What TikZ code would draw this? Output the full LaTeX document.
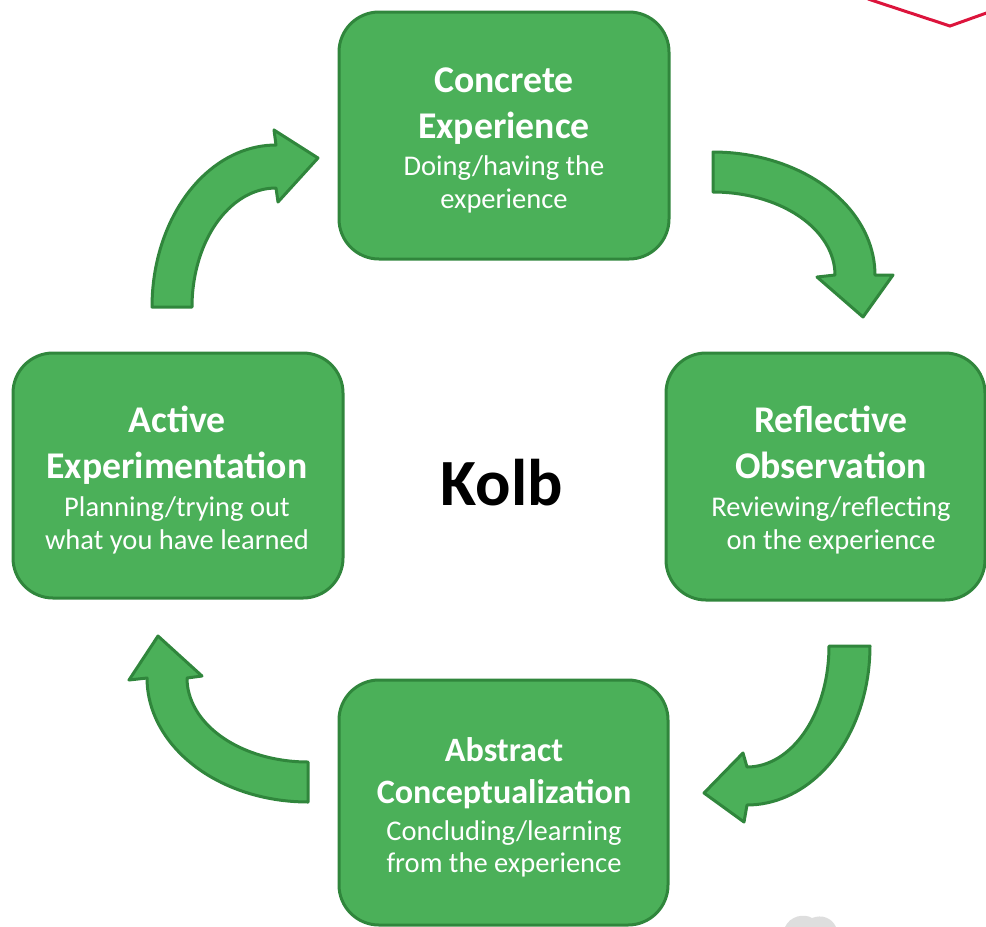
\documentclass[tikz,border=0pt]{standalone}
\usepackage{fontspec}
\setmainfont{Carlito}
\definecolor{boxfill}{RGB}{75,176,89}
\definecolor{boxline}{RGB}{48,134,60}
\definecolor{redline}{RGB}{220,20,60}
\definecolor{blobgray}{RGB}{222,222,222}
\begin{document}
\begin{tikzpicture}[x=0.75pt,y=-0.75pt,
  box/.style={draw=boxline, fill=boxfill, line width=2.25pt, rounded corners=30pt, inner sep=0pt},
  lbl/.style={text=white, anchor=base, inner sep=0pt},
  hd/.style={lbl, font=\fontsize{28.3}{30}\selectfont\bfseries},
  hdsmall/.style={lbl, font=\fontsize{25.6}{28}\selectfont\bfseries},
  sub/.style={lbl, font=\fontsize{21.4}{24}\selectfont},
  cyc/.style={draw=boxline, fill=boxfill, line width=2.25pt, line join=round}]
\useasboundingbox (0,0) rectangle (986,926);
\clip (0,0) rectangle (986,926);

% red line top right
\draw[redline, line width=2.25pt] (868,-1) -- (950,26) -- (992,11);
% grey blob bottom right
\fill[blobgray] (785,927) .. controls (790,916) and (804,913) .. (812,918) .. controls (822,914) and (832,918) .. (836,927) -- cycle;

% boxes
\node[box, minimum width=247.5pt, minimum height=185.25pt] (ce) at (504,135.5) {};
\node[box, minimum width=239.25pt, minimum height=185.25pt] (ro) at (825.5,476.5) {};
\node[box, minimum width=247.5pt, minimum height=183.75pt] (ae) at (178,475.5) {};
\node[box, minimum width=246.75pt, minimum height=183.75pt] (ac) at (503.5,802.5) {};

% texts
\node[hd]  (ce1) at (504,92) {Concrete};
\node[hd]  (ce2) at (504,138) {Experience};
\node[sub] (ce3) at (504,175) {Doing/having the};
\node[sub] (ce4) at (504,208) {experience};

\node[hd]  (ro1) at (831,432) {Reflective};
\node[hd]  (ro2) at (831,478) {Observation};
\node[sub] (ro3) at (831,516) {Reviewing/reflecting};
\node[sub] (ro4) at (831,549) {on the experience};

\node[hd]  (ae1) at (177,432) {Active};
\node[hd]  (ae2) at (177,478) {Experimentation};
\node[sub] (ae3) at (177,516) {Planning/trying out};
\node[sub] (ae4) at (177,549) {what you have learned};

\node[hdsmall] (ac1) at (504,761) {Abstract};
\node[hdsmall] (ac2) at (504,803) {Conceptualization};
\node[sub]     (ac3) at (504,840) {Concluding/learning};
\node[sub]     (ac4) at (504,872) {from the experience};

\node[anchor=base, inner sep=0pt, font=\fontsize{49.5}{55}\selectfont\bfseries] (kolb) at (502,505) {Kolb};

% curved block arrows
% top right
\draw[cyc] plot[domain=-90:0, samples=40, variable=\t] ({713+162*cos(\t)},{275+123*sin(\t)})
  -- (893,275) -- (863,317) -- (817,277)
  -- plot[domain=0:-90, samples=40, variable=\t] ({713+122*cos(\t)},{275+83*sin(\t)}) -- cycle;
% bottom right
\draw[cyc] plot[domain=0:90, samples=40, variable=\t] ({747+123*cos(\t)},{646+159*sin(\t)})
  -- (744,822) -- (704,793) -- (743,753)
  -- plot[domain=90:0, samples=40, variable=\t] ({747+82*cos(\t)},{646+121*sin(\t)}) -- cycle;
% bottom left
\draw[cyc] plot[domain=90:180, samples=40, variable=\t] ({308+161*cos(\t)},{678+124*sin(\t)})
  -- (129,680) -- (158,636) -- (202,676)
  -- plot[domain=180:90, samples=40, variable=\t] ({308+121*cos(\t)},{678+84*sin(\t)}) -- cycle;
% top left
\draw[cyc] plot[domain=180:270, samples=40, variable=\t] ({276+124*cos(\t)},{307+162*sin(\t)})
  -- (274,130) -- (318,158) -- (278,202)
  -- plot[domain=270:180, samples=40, variable=\t] ({276+84*cos(\t)},{307+119*sin(\t)}) -- cycle;
\end{tikzpicture}
\end{document}
